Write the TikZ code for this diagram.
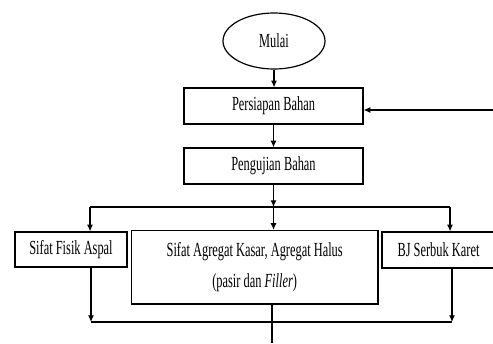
\documentclass[tikz,border=0pt]{standalone}
\usepackage{fontspec}
\setmainfont{Liberation Serif}
\usepackage{graphicx}
\usetikzlibrary{shapes.geometric,arrows.meta}
\tikzset{every picture/.style={line width=0.9pt}}
\newcommand{\sempit}[1]{\scalebox{0.62}[1]{#1}}

\begin{document}
\begin{tikzpicture}[x=0.75pt,y=0.75pt,yscale=-1,xscale=1,
  kotak/.style={draw, inner sep=0pt, font=\fontsize{15}{20}\selectfont},
  panah/.style={-{Latex[length=5pt,width=4.5pt]}}]
\useasboundingbox (0,0) rectangle (493,343);

%Shape: Ellipse
\node [kotak, ellipse, minimum width=76.5pt, minimum height=42pt] (mulai) at (274,41) {\sempit{Mulai}};
%Shape: Rectangle
\node [kotak, minimum width=134.25pt, minimum height=27pt] (persiapan) at (273.5,106) {\sempit{Persiapan Bahan}};
%Shape: Rectangle
\node [kotak, minimum width=134.25pt, minimum height=27pt] (pengujian) at (273.5,166) {\sempit{Pengujian Bahan}};
%Shape: Rectangle
\node [kotak, minimum width=84pt, minimum height=26.25pt] (fisik) at (71,249.5) {\sempit{Sifat Fisik Aspal}};
%Shape: Rectangle
\node [kotak, minimum width=184.9pt, minimum height=55.1pt, align=center] (agregat) at (254.7,267.2) {\sempit{Sifat Agregat Kasar, Agregat Halus}\\[3pt]\sempit{(pasir dan \textit{Filler})}};
%Shape: Rectangle
\node [kotak, minimum width=84.75pt, minimum height=27pt] (serbuk) at (438.5,250) {\sempit{BJ Serbuk Karet}};

%Coordinates
\coordinate (kanan) at (493,110);
\coordinate (cabangL) at (90,207);
\coordinate (cabangR) at (450,207);
\coordinate (gabungL) at (91,322);
\coordinate (gabungR) at (452,322);
\coordinate (bawah) at (272,343);

%Straight Lines
\draw [panah] (mulai.south) -- (mulai.south |- persiapan.north);
\draw [panah] (kanan) -- (kanan -| persiapan.east);
\draw [panah] (persiapan) -- (pengujian);
\draw [panah] (pengujian) -- (pengujian |- cabangL);
\draw [panah] (pengujian |- cabangL) -- (pengujian |- agregat.north);
\draw (cabangL) -- (cabangR);
\draw [panah] (cabangL) -- (cabangL |- fisik.north);
\draw [panah] (cabangR) -- (cabangR |- serbuk.north);
\draw [panah] (fisik.south -| gabungL) -- (gabungL);
\draw [panah] (serbuk.south -| gabungR) -- (gabungR);
\draw (gabungL) -- (gabungR);
\draw (agregat.south -| bawah) -- (bawah);

\end{tikzpicture}
\end{document}
